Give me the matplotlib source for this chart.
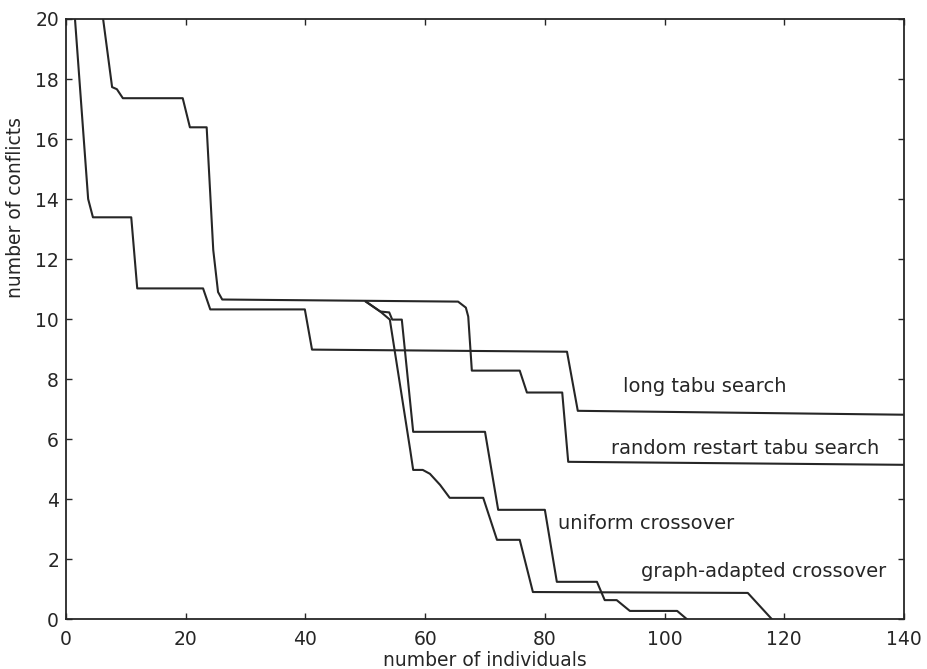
import matplotlib.pyplot as plt

# convergence of the four search methods
rr_x = [6.2, 7.7, 8.5, 9.5, 19.5, 20.7, 23.5, 24.6, 25.4, 26.1, 65.5, 66.8, 67.2, 67.8,
        75.8, 77.0, 82.9, 83.9, 140]
rr_y = [20, 17.73, 17.66, 17.36, 17.36, 16.39, 16.39, 12.3, 10.9, 10.65, 10.58, 10.38, 10.08, 8.28,
        8.28, 7.55, 7.55, 5.24, 5.14]

lt_x = [1.5, 3.7, 4.5, 10.9, 11.9, 22.9, 24.1, 39.9, 41.1, 83.7, 85.5, 140]
lt_y = [20, 14.0, 13.39, 13.39, 11.02, 11.02, 10.32, 10.32, 8.98, 8.91, 6.94, 6.81]

uc_x = [50.1, 52.5, 54.0, 54.5, 56.1, 58.0, 70.0, 72.2, 80.0, 82.0, 88.7, 90.0, 92.0, 94.2,
        102.1, 103.7]
uc_y = [10.58, 10.25, 10.22, 9.98, 9.98, 6.24, 6.24, 3.64, 3.64, 1.24, 1.24, 0.63, 0.63, 0.27,
        0.27, 0]

ga_x = [50.1, 52.5, 54.1, 57.5, 58.0, 59.6, 60.8, 62.5, 64.1, 69.7, 72.0, 75.8, 78.0, 113.9, 117.9]
ga_y = [10.58, 10.25, 9.98, 5.64, 4.97, 4.97, 4.84, 4.47, 4.04, 4.04, 2.64, 2.64, 0.9, 0.87, 0]

labels = ['long tabu search', 'random restart tabu search', 'uniform crossover',
          'graph-adapted crossover']
label_x = [93.0, 91.0, 82.2, 96.0]
label_y = [7.75, 5.7, 3.2, 1.6]

ink = '#262626'
fig = plt.figure(figsize=(9.27, 6.69), dpi=100)
ax = fig.add_axes([0.0712, 0.0747, 0.904, 0.8969])

for xs, ys in [(rr_x, rr_y), (lt_x, lt_y), (uc_x, uc_y), (ga_x, ga_y)]:
    ax.plot(xs, ys, color=ink, lw=1.5, solid_joinstyle='round')

for t, x, y in zip(labels, label_x, label_y):
    ax.text(x, y, t, fontsize=14, color=ink, ha='left', va='center')

ax.set_xlim(0, 140)
ax.set_ylim(0, 20)
ax.set_xticks(range(0, 141, 20))
ax.set_yticks(range(0, 21, 2))
ax.tick_params(direction='in', length=4, width=1, colors=ink, labelsize=13.5,
               top=True, right=True)
ax.tick_params(axis='x', pad=8)
ax.tick_params(axis='y', pad=5)
for s in ax.spines.values():
    s.set_color(ink)
    s.set_linewidth(1.3)

ax.set_xlabel('number of individuals', fontsize=13.5, color=ink, labelpad=1)
ax.set_ylabel('number of conflicts', fontsize=13.5, color=ink)
ax.yaxis.set_label_coords(-0.049, 0.686)

fig.savefig('out.png', dpi=100)
